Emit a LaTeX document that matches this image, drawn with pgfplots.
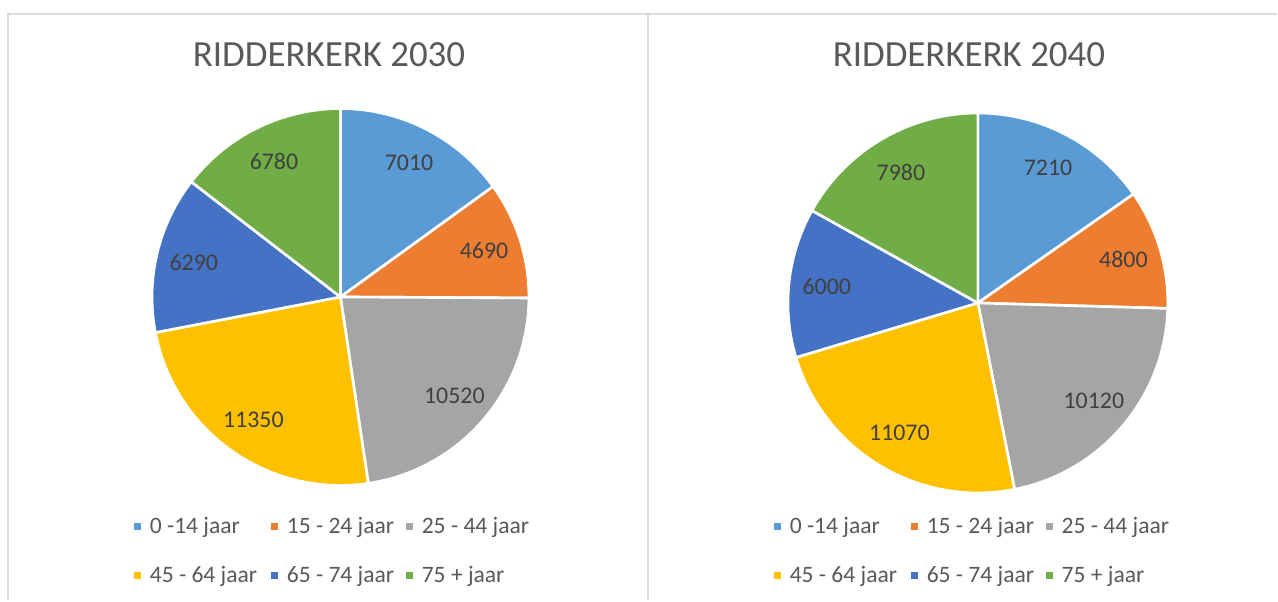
\documentclass[border=0pt]{standalone}
\usepackage{pgfplots}
\usepackage{pgfplotstable}
\pgfplotsset{compat=1.18}
\usepackage{fontspec}
\setmainfont{Carlito}

\definecolor{pc0}{HTML}{5B9BD5}
\definecolor{pc1}{HTML}{ED7D31}
\definecolor{pc2}{HTML}{A5A5A5}
\definecolor{pc3}{HTML}{FFC000}
\definecolor{pc4}{HTML}{4472C4}
\definecolor{pc5}{HTML}{70AD47}
\definecolor{txt}{HTML}{595959}
\definecolor{lbl}{HTML}{404040}
\definecolor{frame}{HTML}{D9D9D9}

% bevolking per leeftijdsgroep
\pgfplotstableread{
value
7010
4690
10520
11350
6290
6780
}\ridA
\pgfplotstableread{
value
7210
4800
10120
11070
6000
7980
}\ridB

% #1 table, #2 cx, #3 cy (px), #4 radius (cm)
\newcommand{\drawpie}[4]{%
  \pgfplotstablegetrowsof{#1}%
  \pgfmathtruncatemacro\pielast{\pgfplotsretval-1}%
  \gdef\pietotal{0}%
  \foreach \i in {0,...,\pielast}{%
    \pgfplotstablegetelem{\i}{value}\of{#1}%
    \pgfmathsetmacro\pietmp{\pietotal+\pgfplotsretval/1000}%
    \xdef\pietotal{\pietmp}}%
  \gdef\pieangle{90}%
  \foreach \i in {0,...,\pielast}{%
    \pgfplotstablegetelem{\i}{value}\of{#1}%
    \let\pieval\pgfplotsretval
    \pgfmathsetmacro\piea{\pieangle}%
    \pgfmathsetmacro\pieb{\pieangle-360*(\pieval/1000)/\pietotal}%
    \pgfmathsetmacro\piemid{(\piea+\pieb)/2}%
    \fill[fill=pc\i, draw=white, line width=1.5pt, line join=round]
      (axis cs:#2,#3) -- ++(\piea:#4) arc[start angle=\piea, end angle=\pieb, radius=#4] -- cycle;
    \path (axis cs:#2,#3) ++(\piemid:0.8*#4) node[text=lbl, font=\fontsize{13.6}{16}\selectfont] {\pieval};
    \xdef\pieangle{\pieb}}%
}

\newcommand{\legitem}[4]{%
  \fill[#3] (axis cs:#1-3.5,#2-3.5) rectangle (axis cs:#1+3.5,#2+3.5);
  \node[anchor=west, inner sep=0pt, text=txt, font=\fontsize{13.4}{16}\selectfont] at (axis cs:#1+12,#2) {#4};
}

\newcommand{\pielegend}[2]{%
  \legitem{#1}{#2}{pc0}{0 -14 jaar}
  \legitem{#1+137}{#2}{pc1}{15 - 24 jaar}
  \legitem{#1+272}{#2}{pc2}{25 - 44 jaar}
  \legitem{#1}{#2+49}{pc3}{45 - 64 jaar}
  \legitem{#1+137}{#2+49}{pc4}{65 - 74 jaar}
  \legitem{#1+272}{#2+49}{pc5}{75 + jaar}
}

\begin{document}
\begin{tikzpicture}
\begin{axis}[
  x=0.02cm, y=0.02cm,
  xmin=0, xmax=1278, ymin=0, ymax=600,
  y dir=reverse,
  hide axis, clip=false,
  scale only axis,
]
\pgfplotsextra{%
  \fill[white] (axis cs:0,0) rectangle (axis cs:1278,600);
  \draw[frame, line width=1.3pt] (axis cs:8,600) -- (axis cs:8,14) -- (axis cs:1277,14);
  \draw[frame, line width=1.3pt] (axis cs:648,14) -- (axis cs:648,600);
  \node[text=txt, font=\fontsize{21}{25}\selectfont] at (axis cs:329,55) {RIDDERKERK 2030};
  \node[text=txt, font=\fontsize{21}{25}\selectfont] at (axis cs:969,55) {RIDDERKERK 2040};
  \drawpie{\ridA}{340.5}{297}{3.77cm}
  \drawpie{\ridB}{978}{303}{3.8cm}
  \pielegend{137.5}{527}
  \pielegend{777.5}{527}
}
\end{axis}
\end{tikzpicture}
\end{document}
